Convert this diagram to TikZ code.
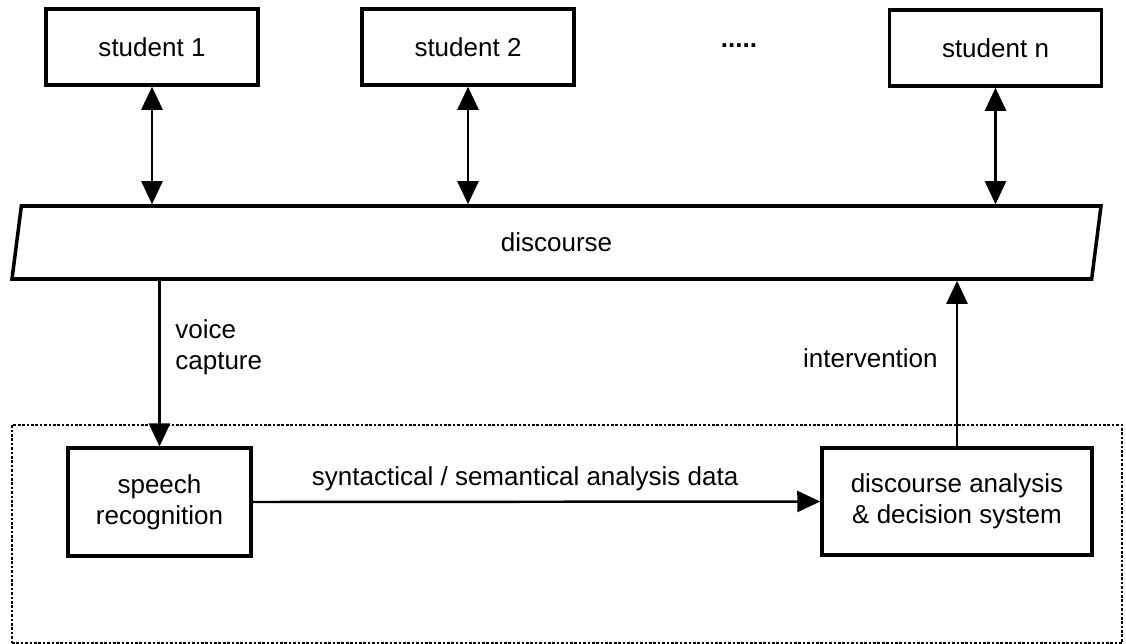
\documentclass[tikz,border=0pt]{standalone}
\usepackage{fontspec}
\setmainfont{Liberation Sans}
\usetikzlibrary{arrows.meta,shapes.geometric}

\tikzset{
    box/.style={draw, line width=2pt, align=center, font=\fontsize{14.8}{17.5}\selectfont,
        minimum width=4.24cm, minimum height=1.52cm, inner sep=3pt},
    process/.style={box, minimum height=2.15cm},
    medium/.style={box, trapezium, trapezium left angle=72.5, trapezium right angle=107.5,
        trapezium stretches body, minimum width=21.78cm, minimum height=1.46cm},
    region/.style={draw, line width=1.5pt, densely dotted, minimum width=22.2cm, minimum height=4.36cm},
    tag/.style={font=\fontsize{14.8}{17.5}\selectfont, align=left, inner sep=0pt},
    link/.style={-{Triangle[length=4.6mm,width=4.2mm]}, line width=1.4pt},
    duplex/.style={{Triangle[length=4.6mm,width=4.2mm]}-{Triangle[length=4.6mm,width=4.2mm]}, line width=1.4pt}
}

\begin{document}
\begin{tikzpicture}
    \useasboundingbox (0,0) rectangle (22.52,-12.88);
    \node[region] (system) at (11.34,-10.68) {};
    \node[box] (student1) at (3.04,-0.94) {student 1};
    \node[box] (student2) at (9.36,-0.94) {student 2};
    \node[tag, font=\fontsize{14.8}{17.5}\selectfont\bfseries] (more) at (14.78,-0.92) {.....};
    \node[box] (studentn) at (19.91,-0.96) {student n};
    \node[medium] (discourse) at (11.13,-4.85) {discourse};
    \node[process, minimum width=3.66cm] (speech) at (3.19,-10.04) {speech\\recognition};
    \node[process, minimum width=5.4cm] (decision) at (19.14,-10.03)
        {discourse analysis\\\& decision system};
    \node[tag, anchor=west] (voice) at (3.5,-6.94) {voice\\capture};
    \node[tag, anchor=east] (interv) at (18.76,-7.16) {intervention};
    \draw[duplex] (student1.south) -- (student1.south |- discourse.north);
    \draw[duplex] (student2.south) -- (student2.south |- discourse.north);
    \draw[duplex] (studentn.south) -- (studentn.south |- discourse.north);
    \draw[link] (speech.north |- discourse.south) -- (speech.north);
    \draw[link] (decision.north) -- (decision.north |- discourse.south);
    \draw[link] (speech.east) -- node[tag, pos=0.48, above=2mm] (data)
        {syntactical / semantical analysis data} (decision.west);
\end{tikzpicture}
\end{document}
